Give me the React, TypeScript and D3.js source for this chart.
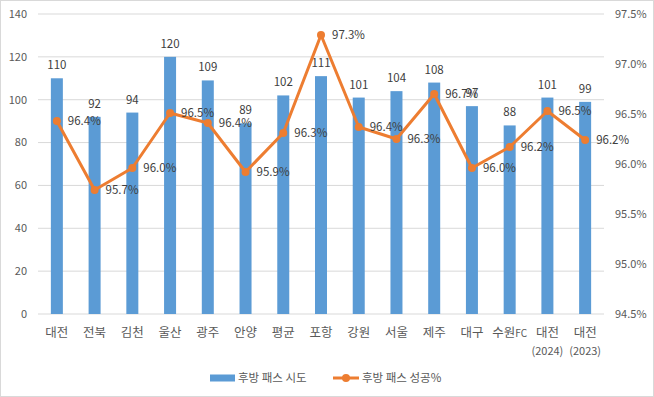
import * as d3 from "d3";

const categories = ["대전", "전북", "김천", "울산", "광주", "안양", "평균", "포항", "강원", "서울", "제주", "대구", "수원FC", "대전\n(2024)", "대전\n(2023)"];
const attempts = [110, 92, 94, 120, 109, 89, 102, 111, 101, 104, 108, 97, 88, 101, 99];
const successPct = [96.43, 95.74, 95.96, 96.51, 96.41, 95.92, 96.31, 97.29, 96.37, 96.25, 96.7, 95.96, 96.17, 96.53, 96.24];
const leftTicks = [0, 20, 40, 60, 80, 100, 120, 140];
const rightTicks = [94.5, 95.0, 95.5, 96.0, 96.5, 97.0, 97.5];

const W = 654;
const H = 397;
const PLOT = { left: 38, right: 604, top: 14, bottom: 314 };
const FONT = "'Malgun Gothic', 'Noto Sans CJK KR', 'Noto Sans', sans-serif";
const BLUE = "#5B9BD5";
const ORANGE = "#ED7D31";
const TEXT = "#595959";

export default function App() {
  const x = d3.scaleBand<number>().domain(d3.range(categories.length)).range([PLOT.left, PLOT.right]);
  const yL = d3.scaleLinear().domain([0, 140]).range([PLOT.bottom, PLOT.top]);
  const yR = d3.scaleLinear().domain([94.5, 97.5]).range([PLOT.bottom, PLOT.top]);
  const cx = (i: number) => (x(i) || 0) + x.bandwidth() / 2;
  const barW = 12;

  const line = d3.line<number>().x((_, i) => cx(i)).y((d) => yR(d));

  return (
    <svg width={W} height={H} style={{ position: "absolute", left: 0, top: 0, fontFamily: FONT }}>
      <rect x={0.5} y={0.5} width={W - 1} height={H - 1} fill="#fff" stroke="#D9D9D9" />
      {leftTicks.map((t) => (
        <g key={t}>
          <line x1={PLOT.left} x2={PLOT.right} y1={yL(t)} y2={yL(t)} stroke="#D9D9D9" strokeWidth={1} />
          <text x={27} y={yL(t)} dy="0.35em" textAnchor="end" fontSize={11} fill={TEXT}>{t}</text>
        </g>
      ))}
      {rightTicks.map((t) => (
        <text key={t} x={615} y={yR(t)} dy="0.35em" fontSize={11} fill={TEXT}>{t.toFixed(1)}%</text>
      ))}
      {attempts.map((v, i) => (
        <g key={i}>
          <rect x={cx(i) - barW / 2} y={yL(v)} width={barW} height={yL(0) - yL(v)} fill={BLUE} />
          <text x={cx(i)} y={yL(v) - 9} textAnchor="middle" fontSize={11.5} fill="#404040">{v}</text>
        </g>
      ))}
      <path d={line(successPct) || ""} fill="none" stroke={ORANGE} strokeWidth={3} strokeLinejoin="round" />
      {successPct.map((v, i) => (
        <g key={i}>
          <circle cx={cx(i)} cy={yR(v)} r={4} fill={ORANGE} />
          <text x={cx(i) + 11} y={yR(v)} dy="0.35em" fontSize={11.5} fill="#404040">{v.toFixed(1)}%</text>
        </g>
      ))}
      {categories.map((c, i) =>
        c.split("\n").map((s, j) => (
          <text key={i + "-" + j} x={cx(i)} y={333 + j * 18} dy="0.35em" textAnchor="middle" fontSize={j ? 11 : 12.5} fill={TEXT}>
            {s.endsWith("FC") ? (<>{s.slice(0, -2)}<tspan fontSize={10}>FC</tspan></>) : s}
          </text>
        ))
      )}
      <rect x={210} y={374.5} width={25} height={7} fill={BLUE} />
      <text x={238} y={378} dy="0.35em" fontSize={11.5} fill={TEXT}>후방 패스 시도</text>
      <line x1={333} x2={359} y1={378} y2={378} stroke={ORANGE} strokeWidth={3} />
      <circle cx={346} cy={378} r={4} fill={ORANGE} />
      <text x={362} y={378} dy="0.35em" fontSize={11.5} fill={TEXT}>후방 패스 성공%</text>
    </svg>
  );
}
